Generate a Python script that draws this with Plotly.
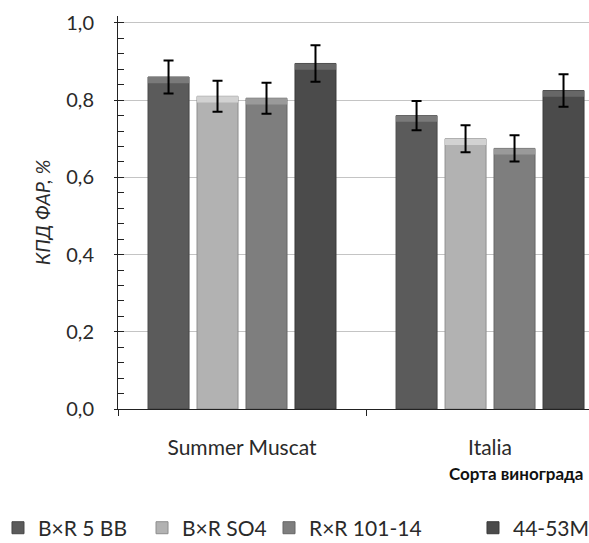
import plotly.graph_objects as go

# Grape varieties (categories) and rootstock combinations (series)
varieties = ["Summer Muscat", "Italia"]
rootstocks = ["B×R 5 BB", "B×R SO4", "R×R 101-14", "44-53M"]

# PAR efficiency, % (mean and error) per rootstock, per variety
vals_5bb = [0.86, 0.76]
vals_so4 = [0.81, 0.70]
vals_101 = [0.805, 0.675]
vals_4453 = [0.895, 0.825]

err_5bb = [0.043, 0.038]
err_so4 = [0.040, 0.035]
err_101 = [0.040, 0.034]
err_4453 = [0.047, 0.042]

series_vals = [vals_5bb, vals_so4, vals_101, vals_4453]
series_err = [err_5bb, err_so4, err_101, err_4453]

body_colors = ["#5b5b5b", "#b2b2b2", "#7e7e7e", "#4b4b4b"]
bevel_colors = ["#7a7a7a", "#d2d2d2", "#9a9a9a", "#676767"]
edge_colors = ["#474747", "#8e8e8e", "#666666", "#3a3a3a"]

# each legend entry sits in its own legend box along the bottom row
legend_ids = ["legend", "legend2", "legend3", "legend4"]
legend_x = [-0.2548, 0.051, 0.3206, 0.7537]

BEVEL = 0.016
FONT = "Lato"
TXT = "#2a2a2a"

fig = go.Figure()

for name, vals, col, edge, k in zip(rootstocks, series_vals, body_colors, edge_colors, range(4)):
    fig.add_trace(go.Bar(
        x=varieties, y=vals, name=name, offsetgroup=str(k),
        marker=dict(color=col, line=dict(color=edge, width=1)),
        showlegend=True, legend=legend_ids[k],
    ))

# lighter strip at the top of each bar, carrying the error bars
for vals, errs, col, k in zip(series_vals, series_err, bevel_colors, range(4)):
    fig.add_trace(go.Bar(
        x=varieties, y=[BEVEL] * len(vals), base=[v - BEVEL for v in vals],
        offsetgroup=str(k), showlegend=False, hoverinfo="skip",
        marker=dict(color=col, line=dict(width=0)),
        error_y=dict(type="data", array=errs, color="black", thickness=2, width=5),
    ))

legend_style = dict(
    orientation="h", xanchor="left", y=-0.303, yanchor="middle",
    font=dict(size=21, color=TXT), itemwidth=30, bgcolor="rgba(0,0,0,0)",
)
legends = {lid: dict(legend_style, x=lx) for lid, lx in zip(legend_ids, legend_x)}

fig.update_layout(
    width=589, height=543,
    margin=dict(l=118, r=0, t=16, b=134, autoexpand=False),
    plot_bgcolor="white", paper_bgcolor="white",
    barmode="group", bargap=0.21, bargroupgap=0.163,
    separators=", ",
    font=dict(family=FONT, size=20, color=TXT),
    showlegend=True,
    **legends,
    xaxis=dict(
        type="category", range=[-0.5, 1.399], autorange=False,
        showline=True, linecolor="#222222", linewidth=1,
        ticks="outside", ticklen=6, tickcolor="#222222", tickson="boundaries",
        ticklabelstandoff=20, showgrid=False, tickangle=0,
        tickfont=dict(size=21, color=TXT),
    ),
    yaxis=dict(
        range=[0, 1.018], tick0=0, dtick=0.2, tickformat=".1f",
        showline=True, linecolor="#222222", linewidth=1,
        ticks="outside", ticklen=3, tickcolor="#222222",
        minor=dict(dtick=0.04, ticks="inside", ticklen=6, tickcolor="#222222", showgrid=False),
        showgrid=True, gridcolor="#c4c4c4", gridwidth=1,
        zeroline=False,
        tickfont=dict(size=20, color=TXT),
        ticklabelstandoff=16,
        title=dict(text="<i>КПД ФАР, %</i>", font=dict(size=20, color=TXT), standoff=10),
    ),
    annotations=[dict(
        text="<b>Сорта винограда</b>", xref="paper", yref="paper",
        x=1.0, y=-0.163, xanchor="right", yanchor="middle", showarrow=False,
        xshift=-4, font=dict(size=17, color="#111111"),
    )],
)

fig.write_html("out.html")
